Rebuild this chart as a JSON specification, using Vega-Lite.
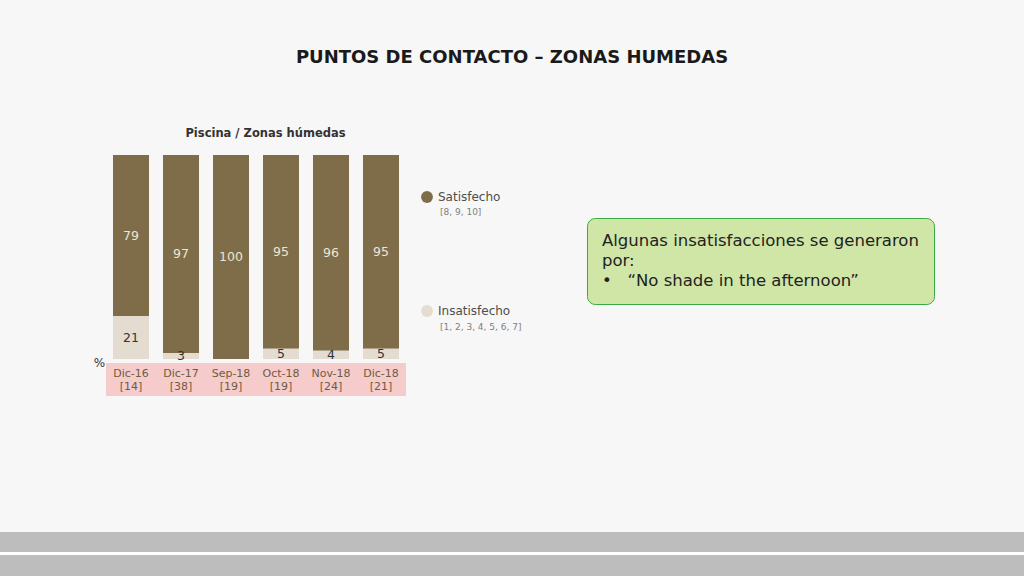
{
  "$schema": "https://vega.github.io/schema/vega-lite/v6.json",
  "width": 1024,
  "height": 204,
  "autosize": {"type": "none"},
  "padding": {"top": 155, "bottom": 217, "left": 0, "right": 0},
  "background": "#F7F7F7",
  "title": {
    "text": "PUNTOS DE CONTACTO – ZONAS HUMEDAS",
    "anchor": "middle",
    "frame": "group",
    "font": "DejaVu Sans",
    "fontSize": 18,
    "fontWeight": "bold",
    "color": "#1A1A1A",
    "offset": 60
  },
  "config": {
    "view": {"stroke": null},
    "font": "DejaVu Sans"
  },
  "data": {
    "values": [
      {"cat": "Dic-16", "n": "[14]", "resp": "Satisfecho", "value": 79, "rango": "[8, 9, 10]"},
      {"cat": "Dic-16", "n": "[14]", "resp": "Insatisfecho", "value": 21, "rango": "[1, 2, 3, 4, 5, 6, 7]"},
      {"cat": "Dic-17", "n": "[38]", "resp": "Satisfecho", "value": 97, "rango": "[8, 9, 10]"},
      {"cat": "Dic-17", "n": "[38]", "resp": "Insatisfecho", "value": 3, "rango": "[1, 2, 3, 4, 5, 6, 7]"},
      {"cat": "Sep-18", "n": "[19]", "resp": "Satisfecho", "value": 100, "rango": "[8, 9, 10]"},
      {"cat": "Sep-18", "n": "[19]", "resp": "Insatisfecho", "value": 0, "rango": "[1, 2, 3, 4, 5, 6, 7]"},
      {"cat": "Oct-18", "n": "[19]", "resp": "Satisfecho", "value": 95, "rango": "[8, 9, 10]"},
      {"cat": "Oct-18", "n": "[19]", "resp": "Insatisfecho", "value": 5, "rango": "[1, 2, 3, 4, 5, 6, 7]"},
      {"cat": "Nov-18", "n": "[24]", "resp": "Satisfecho", "value": 96, "rango": "[8, 9, 10]"},
      {"cat": "Nov-18", "n": "[24]", "resp": "Insatisfecho", "value": 4, "rango": "[1, 2, 3, 4, 5, 6, 7]"},
      {"cat": "Dic-18", "n": "[21]", "resp": "Satisfecho", "value": 95, "rango": "[8, 9, 10]"},
      {"cat": "Dic-18", "n": "[21]", "resp": "Insatisfecho", "value": 5, "rango": "[1, 2, 3, 4, 5, 6, 7]"}
    ]
  },
  "layer": [
    {
      "mark": {"type": "rect", "color": "#BDBDBD"},
      "encoding": {
        "y": {"datum": -84.8, "type": "quantitative"},
        "y2": {"datum": -106.4}
      }
    },
    {
      "mark": {"type": "rule", "color": "#FFFFFF", "strokeWidth": 2},
      "encoding": {
        "y": {"datum": -95.3, "type": "quantitative"}
      }
    },
    {
      "transform": [{"filter": "datum.resp == 'Satisfecho'"}],
      "mark": {"type": "bar", "color": "#F5CBCB", "width": {"band": 1.3889}},
      "encoding": {
        "x": {"field": "cat", "type": "nominal", "sort": null,
          "scale": {"domain": ["Dic-16", "Dic-17", "Sep-18", "Oct-18", "Nov-18", "Dic-18"], "range": [106, 406], "paddingInner": 0.28, "paddingOuter": 0.14},
          "axis": {"orient": "top", "labels": false, "ticks": false, "domain": false, "grid": false,
            "title": "Piscina / Zonas húmedas", "titleX": 265, "titleY": -22, "titleAlign": "center", "titleBaseline": "middle",
            "titleFontSize": 11.5, "titleFontWeight": "bold", "titleColor": "#333333", "titleFont": "DejaVu Sans"}},
        "y": {"datum": -2, "type": "quantitative"},
        "y2": {"datum": -18.1}
      }
    },
    {
      "mark": {"type": "bar"},
      "encoding": {
        "x": {"field": "cat", "type": "nominal", "sort": null},
        "y": {"field": "value", "type": "quantitative", "stack": "zero",
          "scale": {"domain": [0, 100], "nice": false, "zero": false},
          "axis": {"labels": false, "ticks": false, "domain": false, "grid": false,
            "title": "%", "titleAngle": 0, "titleX": 99, "titleY": 207, "titleAlign": "center", "titleBaseline": "middle",
            "titleFontSize": 12, "titleFontWeight": "normal", "titleColor": "#333333", "titleFont": "DejaVu Sans"}},
        "color": {"field": "resp", "type": "nominal",
          "scale": {"domain": ["Satisfecho", "Insatisfecho"], "range": ["#7E6D48", "#E4DCD0"]},
          "legend": {"orient": "none", "legendX": 421, "legendY": 36, "title": null,
            "symbolType": "circle", "symbolSize": 140, "symbolOpacity": 1, "symbolStrokeWidth": 0,
            "labelFontSize": 12, "labelColor": "#4D4D4D", "labelFont": "DejaVu Sans", "labelOffset": 5,
            "rowPadding": 102}},
        "order": {"field": "resp", "sort": "ascending"}
      }
    },
    {
      "mark": {"type": "text", "fontSize": 12.5, "baseline": "middle", "align": "center", "font": "DejaVu Sans"},
      "encoding": {
        "x": {"field": "cat", "type": "nominal", "sort": null},
        "y": {"field": "value", "type": "quantitative", "stack": "zero", "bandPosition": 0.5},
        "detail": {"field": "resp"},
        "order": {"field": "resp", "sort": "ascending"},
        "text": {"condition": {"test": "datum.value > 0", "field": "value"}, "value": ""},
        "color": {"condition": {"test": "datum.resp == 'Satisfecho'", "value": "#ECE5D6"}, "value": "#333333"}
      }
    },
    {
      "transform": [{"filter": "datum.resp == 'Satisfecho'"}],
      "mark": {"type": "text", "fontSize": 11, "baseline": "middle", "align": "center", "color": "#6E5D3C", "font": "DejaVu Sans"},
      "encoding": {
        "x": {"field": "cat", "type": "nominal", "sort": null},
        "y": {"datum": -7.4, "type": "quantitative"},
        "text": {"field": "cat"}
      }
    },
    {
      "transform": [{"filter": "datum.resp == 'Satisfecho'"}],
      "mark": {"type": "text", "fontSize": 11, "baseline": "middle", "align": "center", "color": "#6E5D3C", "font": "DejaVu Sans"},
      "encoding": {
        "x": {"field": "cat", "type": "nominal", "sort": null},
        "y": {"datum": -13.8, "type": "quantitative"},
        "text": {"field": "n"}
      }
    },
    {
      "mark": {"type": "point", "opacity": 0},
      "encoding": {
        "x": {"field": "cat", "type": "nominal", "sort": null},
        "y": {"field": "value", "type": "quantitative"},
        "shape": {"field": "rango", "type": "nominal",
          "scale": {"domain": ["[8, 9, 10]", "[1, 2, 3, 4, 5, 6, 7]"], "range": ["circle", "circle"]},
          "legend": {"orient": "none", "legendX": 428, "legendY": 52, "title": null,
            "symbolSize": 10, "symbolOpacity": 0, "symbolStrokeWidth": 0,
            "labelFontSize": 9, "labelColor": "#808080", "labelFont": "DejaVu Sans", "labelOffset": 3,
            "rowPadding": 105}}
      }
    },
    {
      "data": {"values": [{"nota": "•\u00a0\u00a0\u00a0“No shade in the afternoon”"}]},
      "mark": {"type": "point", "opacity": 0},
      "encoding": {
        "size": {"field": "nota", "type": "nominal",
          "scale": {"range": [1]},
          "legend": {"orient": "none", "legendX": 587, "legendY": 63,
            "title": ["Algunas insatisfacciones se generaron", "por:"],
            "titleFontSize": 16.5, "titleFont": "DejaVu Sans", "titleFontWeight": "normal", "titleColor": "#222222",
            "titleLineHeight": 20, "titlePadding": 11, "titleLimit": 400,
            "labelFontSize": 16.5, "labelFont": "DejaVu Sans", "labelColor": "#222222", "labelOffset": 0, "labelLimit": 400,
            "symbolType": "circle", "symbolSize": 0, "symbolOpacity": 0,
            "fillColor": "#CFE6A7", "strokeColor": "#3AAA44", "cornerRadius": 8, "padding": 15}}
      }
    }
  ]
}
